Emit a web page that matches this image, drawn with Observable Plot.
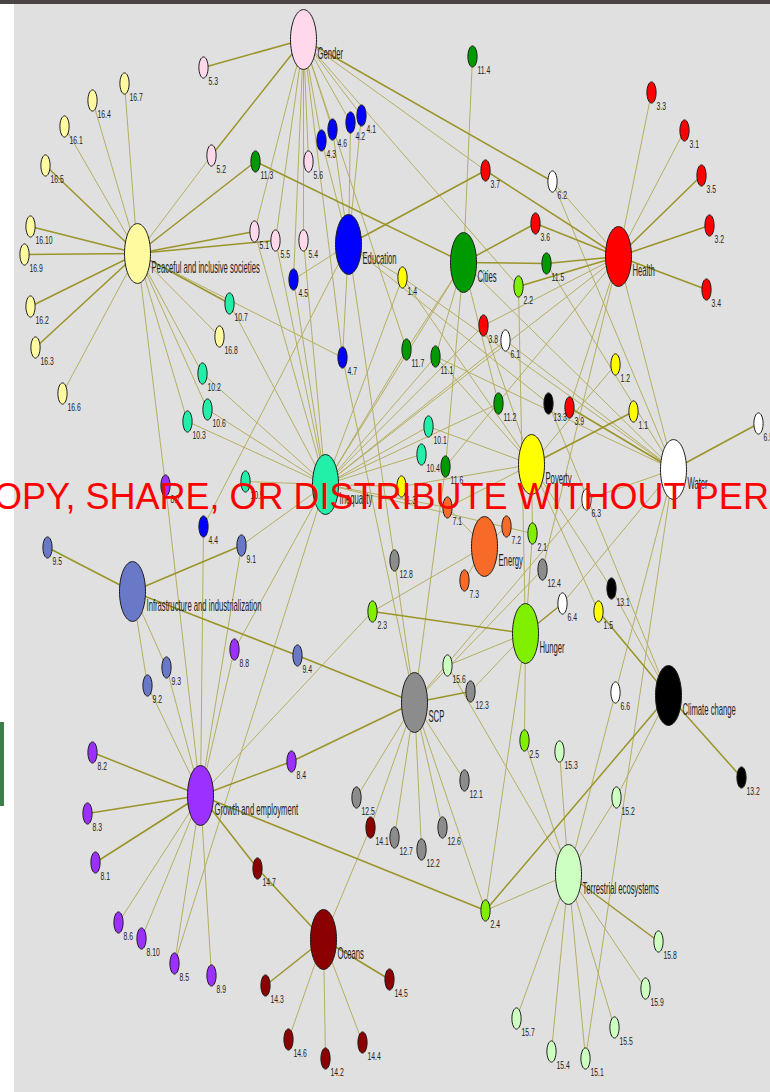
<!DOCTYPE html>
<html><head><meta charset="utf-8">
<script src="https://cdn.jsdelivr.net/npm/d3@7"></script>
<script src="https://cdn.jsdelivr.net/npm/@observablehq/plot@0.6"></script>
<style>
body{margin:0;background:#fff;}
#wrap{position:relative;width:770px;height:1092px;overflow:hidden;background:#fff;}
#topbar{position:absolute;left:0;top:0;width:770px;height:4px;background:#4a4444;}
#tab{position:absolute;left:0;top:722px;width:4px;height:84px;background:#3d7f48;}
#chart{position:absolute;left:14px;top:4px;}
</style></head><body>
<div id="wrap"><div id="topbar"></div><div id="tab"></div><div id="chart"></div></div>
<script>
// Goal colours (by goal number)
const goalColors = {1:"#ffff00",2:"#80f000",3:"#ff0000",4:"#0000ff",5:"#ffd8ec",6:"#ffffff",7:"#f86a28",8:"#9b30ff",9:"#6a78c8",10:"#22f0a8",11:"#009a00",12:"#8c8c8c",13:"#000000",14:"#8b0000",15:"#ccffc0",16:"#fffaa0"};

// Goal hubs: key, goal number, label, layout position
const hubs = [
  {id:"G",  goal:5,  name:"Gender", x:303, y:39},
  {id:"P",  goal:16, name:"Peaceful and inclusive societies", x:137, y:253},
  {id:"E",  goal:4,  name:"Education", x:348, y:244},
  {id:"C",  goal:11, name:"Cities", x:463, y:262},
  {id:"H",  goal:3,  name:"Health", x:618, y:256},
  {id:"PV", goal:1,  name:"Poverty", x:531, y:464},
  {id:"W",  goal:6,  name:"Water", x:673, y:469},
  {id:"I",  goal:10, name:"Inequality", x:325, y:484},
  {id:"EN", goal:7,  name:"Energy", x:484, y:546},
  {id:"IN", goal:9,  name:"Infrastructure and industrialization", x:132, y:591},
  {id:"HU", goal:2,  name:"Hunger", x:525, y:633},
  {id:"S",  goal:12, name:"SCP", x:414, y:702},
  {id:"CC", goal:13, name:"Climate change", x:668, y:695},
  {id:"GE", goal:8,  name:"Growth and employment", x:200, y:795},
  {id:"O",  goal:14, name:"Oceans", x:323, y:939},
  {id:"T",  goal:15, name:"Terrestrial ecosystems", x:568, y:874}
];

// Targets: label, layout position
const targets = [
  ["5.3",203,67],["16.7",124,83],["16.4",92,100],["16.1",64,126],["16.5",45,165],["5.2",211,155],
  ["11.3",255,161],["16.10",30,226],["16.9",24,254],["5.1",254,231],["11.4",472,56],["4.1",361,115],
  ["4.2",350,122],["4.6",332,129],["4.3",321,140],["5.6",308,161],["3.7",485,170],["5.5",275,240],
  ["5.4",303,240],["4.5",293,279],["1.4",402,277],["3.3",651,92],["3.1",684,130],["3.5",701,175],
  ["3.2",709,225],["6.2",552,181],["3.6",535,223],["11.5",546,263],["3.4",706,289],["2.2",518,286],
  ["1.2",615,364],["13.3",548,403],["3.9",569,407],["1.1",633,411],["6.5",758,423],["6.3",586,499],
  ["2.1",532,533],["6.1",505,340],["3.8",483,325],["11.7",406,349],["11.1",435,356],["4.7",342,357],
  ["11.2",498,403],["10.1",428,426],["10.4",421,454],["11.6",445,466],["1.3",401,486],["7.1",447,507],
  ["7.2",506,526],["16.2",30,306],["16.3",35,347],["16.6",62,393],["10.7",229,303],["16.8",219,336],
  ["10.2",202,373],["10.6",207,409],["10.3",187,421],["8.7",165,485],["10.5",245,481],["4.4",203,526],
  ["9.1",241,545],["9.5",47,547],["8.8",234,649],["9.3",166,667],["9.2",147,685],["8.2",92,752],
  ["8.3",87,813],["12.8",394,560],["7.3",464,580],["2.3",372,611],["9.4",297,655],["15.6",447,665],
  ["12.3",470,691],["8.4",291,761],["12.1",464,780],["12.5",356,797],["12.4",542,569],["13.1",611,588],
  ["6.4",562,603],["1.5",598,611],["6.6",615,692],["2.5",524,740],["15.3",559,751],["13.2",741,777],
  ["15.2",616,797],["8.1",95,862],["8.6",118,922],["8.10",141,938],["8.5",174,963],["8.9",211,975],
  ["14.1",370,827],["12.7",394,837],["12.2",421,849],["12.6",442,827],["14.7",257,868],["2.4",485,910],
  ["14.3",265,985],["14.5",389,979],["14.6",288,1039],["14.2",325,1058],["14.4",362,1042],["15.8",658,941],
  ["15.9",645,988],["15.7",516,1018],["15.5",614,1027],["15.4",551,1051],["15.1",585,1058]
];

// Links from a target to its own goal that are drawn heavy
const heavyOwn = ["16.2","16.3","16.5","16.9","16.10","5.2","5.3","11.3","11.5","3.2","3.4","3.5","3.6","3.7","1.1","6.5","9.1","9.4","9.5","2.3","12.3","13.2","8.1","8.2","8.3","8.4","14.3","14.5","14.7","15.8"];

// Links from a target to another goal: [target, hub, weight]
const crossLinks = [
  ["5.1","P",2],["5.5","P",2],["5.2","P",1],["11.3","P",2],["10.7","P",2],["10.2","P",1],["10.3","P",1],["10.6","P",1],["4.7","P",1],["8.7","P",1],
  ["4.1","G",1],["4.2","G",1],["4.3","G",1],["4.6","G",1],["4.5","G",1],["4.7","G",1],["11.7","G",1],["2.2","G",1],["3.7","G",1],["6.2","G",2],
  ["1.4","E",1],["3.7","E",2],["12.8","E",1],["13.3","E",1],
  ["3.6","C",2],
  ["2.2","H",2],["6.2","H",1],["11.5","H",2],["12.4","H",1],["11.6","H",1],
  ["7.1","PV",1],["10.1","PV",1],["2.1","PV",1],["3.8","PV",1],["11.1","PV",1],["13.1","PV",1],
  ["3.9","W",2],["15.1","W",1],["1.4","W",1],["11.5","W",1],["11.1","W",1],
  ["1.3","I",1],["1.4","I",1],["4.5","I",1],["5.1","I",1],["5.4","I",1],["5.5","I",1],["8.5","I",1],["8.8","I",1],["9.1","I",1],["11.1","I",1],["11.2","I",1],["11.7","I",1],["3.8","I",1],["6.1","I",1],["7.1","I",1],["2.1","I",1],
  ["1.5","CC",2],["2.4","CC",2],["15.2","CC",1],
  ["6.4","HU",2],["12.3","HU",1],["15.6","HU",1],
  ["9.4","S",2],["8.4","S",2],["11.6","S",1],["6.3","S",1],["14.1","S",1],["2.4","S",1],["4.7","S",1],
  ["2.4","T",1],["2.5","T",1],["6.6","T",1],
  ["2.4","GE",2],["14.7","GE",2],["4.4","GE",1],["9.2","GE",1],["9.3","GE",1],["9.1","GE",1],["2.3","GE",1],
  ["2.3","EN",1]
];

// Links between goals: [hub, hub, weight]
const hubLinks = [["C","I",1],["C","W",1],["H","W",1],["H","I",1]];

const watermark = "OPY, SHARE, OR DISTRIBUTE WITHOUT PER";

// ---- build tables ----
const hubById = new Map(hubs.map(h => [h.id, h]));
const hubByGoal = new Map(hubs.map(h => [h.goal, h]));
const nodes = targets.map(([id, x, y]) => ({id, x, y, goal: +id.split(".")[0]}));
const nodeById = new Map(nodes.map(n => [n.id, n]));
const links = [
  ...nodes.map(n => ({a: n, b: hubByGoal.get(n.goal), w: heavyOwn.includes(n.id) ? 2 : 1})),
  ...crossLinks.map(([t, h, w]) => ({a: nodeById.get(t), b: hubById.get(h), w})),
  ...hubLinks.map(([h1, h2, w]) => ({a: hubById.get(h1), b: hubById.get(h2), w}))
];

// ellipse symbol (the picture is stretched vertically)
const ellipse = {
  draw(context, size) {
    const rx = Math.sqrt(size / Math.PI), ry = rx * 2.3, k = 0.5523;
    context.moveTo(rx, 0);
    context.bezierCurveTo(rx, ry * k, rx * k, ry, 0, ry);
    context.bezierCurveTo(-rx * k, ry, -rx, ry * k, -rx, 0);
    context.bezierCurveTo(-rx, -ry * k, -rx * k, -ry, 0, -ry);
    context.bezierCurveTo(rx * k, -ry, rx, -ry * k, rx, 0);
    context.closePath();
  }
};

const font = "Liberation Sans, Arial, sans-serif";
const svg = Plot.plot({
  width: 756, height: 1088, margin: 0,
  x: {domain: [14, 770], range: [0, 756], axis: null},
  y: {domain: [4, 1092], range: [0, 1088], axis: null},
  style: {background: "#e0e0e0", overflow: "visible"},
  marks: [
    Plot.link(links.filter(d => d.w === 1), {x1: d => d.a.x, y1: d => d.a.y, x2: d => d.b.x, y2: d => d.b.y, stroke: "#b5af62", strokeWidth: 1}),
    Plot.link(links.filter(d => d.w === 2), {x1: d => d.a.x, y1: d => d.a.y, x2: d => d.b.x, y2: d => d.b.y, stroke: "#9a9428", strokeWidth: 1.5}),
    Plot.dot(nodes, {x: "x", y: "y", r: 4.6, symbol: ellipse, fill: d => goalColors[d.goal], stroke: "#1a1a1a", strokeWidth: 1}),
    Plot.dot(hubs, {x: "x", y: "y", r: 13, symbol: ellipse, fill: d => goalColors[d.goal], stroke: "#1a1a1a", strokeWidth: 1}),
    Plot.text(nodes, {x: "x", y: "y", text: "id", dx: 5, dy: 14, textAnchor: "start", fontSize: 11, fill: "#222", fontFamily: font}),
    Plot.text(hubs, {x: "x", y: "y", text: "name", dx: 14, dy: 14, textAnchor: "start", fontSize: 16, fill: "#222", fontFamily: font}),
    Plot.text([watermark], {frameAnchor: "middle", dx: -11, dy: -51.5, fontSize: 36, fill: "#ff0000", fontFamily: font})
  ]
});
document.getElementById("chart").appendChild(svg);

// squeeze labels horizontally to match the stretched picture
function squeeze(group, sx) {
  d3.select(group).selectAll("text").each(function() {
    const t = d3.select(this);
    const tr = t.attr("transform");
    if (tr && /translate/.test(tr)) {
      t.attr("transform", tr + ` scale(${sx},1)`);
    } else {
      const x = parseFloat(t.attr("x")) || 0;
      t.attr("x", null);
      t.attr("transform", `translate(${x},0) scale(${sx},1)` + (tr ? " " + tr : ""));
    }
  });
}
const textGroups = Array.from(svg.querySelectorAll('g[aria-label="text"]'));
if (textGroups.length >= 2) {
  squeeze(textGroups[0], 0.62);
  squeeze(textGroups[1], 0.48);
}
</script>
</body></html>
